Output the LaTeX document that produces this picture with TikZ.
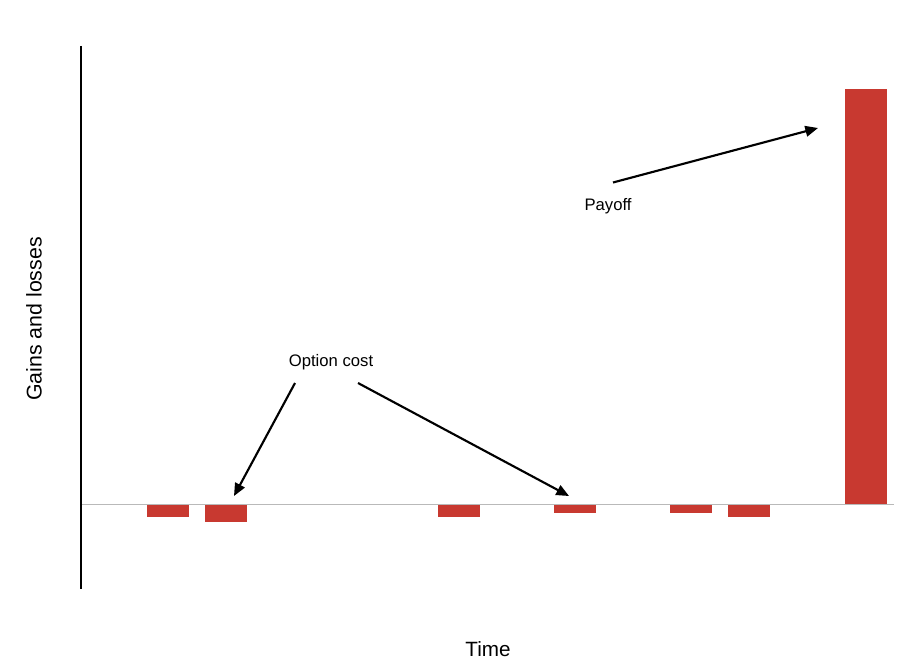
\documentclass[tikz,border=0pt]{standalone}
\usepackage{fontspec}
\setmainfont{Liberation Sans}
\usetikzlibrary{arrows.meta}
\definecolor{barred}{RGB}{200,57,48}
\begin{document}
\begin{tikzpicture}[>={Triangle[length=9.5pt,width=8pt]}, x=.75pt, y=-.75pt]
\useasboundingbox (0,0) rectangle (919,667);
% bars
\foreach \xl/\yb in {147/517, 205/522, 438/517, 554/513, 670/513, 728/517}
  \fill[barred] (\xl,505) rectangle ++(41.5,\yb-505);
\fill[barred] (845,89) rectangle (886.5,505);
% axes
\draw[gray!55, line width=1.4pt](81,504.5)--(894,504.5);
\draw[line width=2.2pt](81,46)--(81,589);
\node[rotate=90, font=\fontsize{16}{19}\selectfont] (ylab) at (34,319) {Gains and losses};
\node[font=\fontsize{15.5}{18}\selectfont] (xlab) at (488,649) {Time};
% labels
\node[font=\fontsize{12.5}{15}\selectfont] (cost) at (331,362) {Option cost};
\node[font=\fontsize{12.5}{15}\selectfont] (pay) at (608,206) {Payoff};
\coordinate (c1) at (295,383);
\coordinate (c2) at (358,383);
\coordinate (b2) at (234,496);
\coordinate (b4) at (569,496);
\coordinate (p1) at (613,182.5);
\coordinate (b7) at (818,128);
\draw[line width=1.6pt, ->](c1)--(b2);
\draw[line width=1.6pt, ->](c2)--(b4);
\draw[line width=1.6pt, ->](p1)--(b7);
\end{tikzpicture}
\end{document}
